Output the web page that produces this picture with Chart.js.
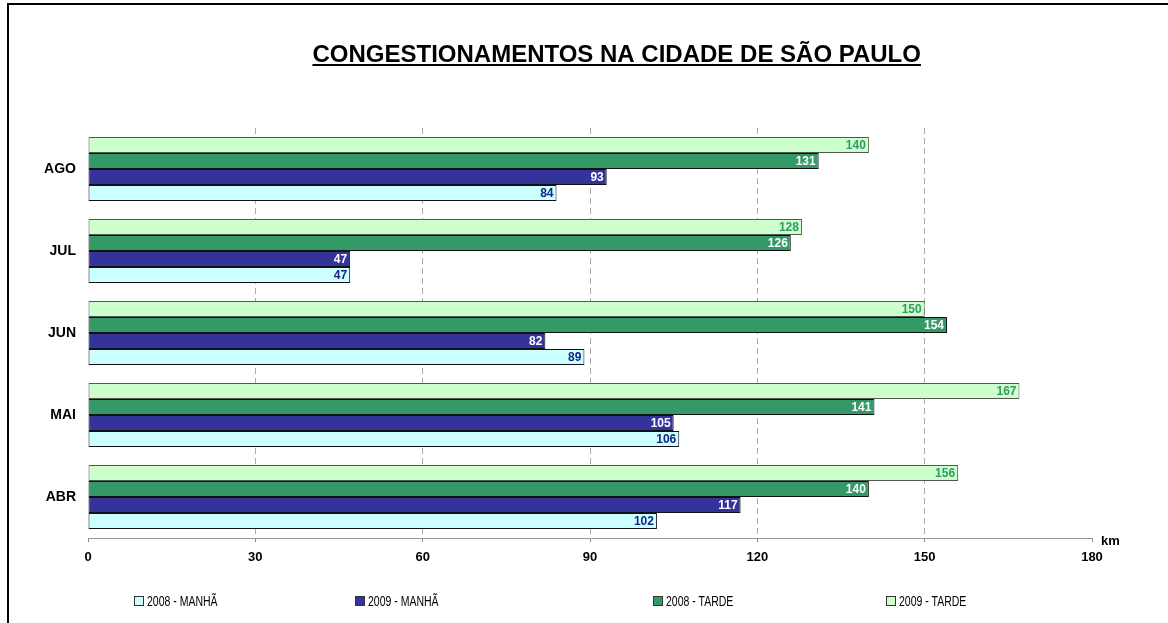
<!DOCTYPE html>
<html>
<head>
<meta charset="utf-8">
<script src="https://cdn.jsdelivr.net/npm/chart.js@4"></script>
<style>
    html, body { margin: 0; padding: 0; background: #fff; }
    #wrap { position: relative; width: 1168px; height: 623px; overflow: hidden; }
    #frame {
        position: absolute; left: 7px; top: 3px; width: 1200px; height: 700px;
        border-left: 2px solid #000; border-top: 2px solid #000;
    }
    #chart { position: absolute; left: 0; top: 0; }
    #legend {
        position: absolute; left: 134px; top: 592px; height: 18px; display: flex;
        font-family: "Liberation Sans", Arial, sans-serif;
        font-size: 14px; color: #000;
    }
    .item { display: flex; align-items: center; }
    .box { width: 8px; height: 8px; border: 1px solid #333; margin-right: 3px; }
    .txt { display: inline-block; transform: scaleX(0.75); transform-origin: left center; white-space: nowrap; }
</style>
</head>
<body>
<div id="wrap">
    <div id="frame"></div>
    <canvas id="chart" width="1168" height="623"></canvas>
    <div id="legend"></div>
</div>
<script>
const FONT = '"Liberation Sans", Arial, sans-serif';
const TITLE = 'CONGESTIONAMENTOS NA CIDADE DE SÃO PAULO';

// meses de cima para baixo
const meses = ['AGO', 'JUL', 'JUN', 'MAI', 'ABR'];

const manha2008 = [84, 47, 89, 106, 102];
const manha2009 = [93, 47, 82, 105, 117];
const tarde2008 = [131, 126, 154, 141, 140];
const tarde2009 = [140, 128, 150, 167, 156];

const xTicks = [0, 30, 60, 90, 120, 150, 180];

// ordem dos datasets = ordem das barras de cima para baixo
const series = [
    { label: '2009 - TARDE', data: tarde2009, bg: '#ccffcc', border: '#555', text: '#339966' },
    { label: '2008 - TARDE', data: tarde2008, bg: '#339966', border: '#111', text: '#ffffff' },
    { label: '2009 - MANHÃ', data: manha2009, bg: '#333399', border: '#111', text: '#ffffff' },
    { label: '2008 - MANHÃ', data: manha2008, bg: '#ccffff', border: '#111', text: '#1a237e' }
];

// larguras das colunas da legenda (2008 manhã primeiro)
const legendWidths = [221, 298, 233, 150];

//valores dentro do fim de cada barra
const valueLabels = {
    id: 'valueLabels',
    afterDatasetsDraw(chart) {
        const ctx = chart.ctx;
        ctx.save();
        ctx.font = 'bold 12px ' + FONT;
        ctx.textAlign = 'right';
        ctx.textBaseline = 'middle';
        chart.data.datasets.forEach((ds, i) => {
            const meta = chart.getDatasetMeta(i);
            ctx.fillStyle = series[i].text;
            meta.data.forEach((bar, j) => {
                ctx.fillText(ds.data[j], bar.x - 3, bar.y + 1);
            });
        });
        ctx.restore();
    }
};

//titulo sublinhado e unidade "km"
const extras = {
    id: 'extras',
    afterDraw(chart) {
        const ctx = chart.ctx;
        const a = chart.chartArea;
        ctx.save();
        ctx.fillStyle = '#000';
        ctx.font = 'bold 24px ' + FONT;
        ctx.textAlign = 'center';
        ctx.textBaseline = 'alphabetic';
        const cx = chart.width * 0.528;
        const base = a.top - 66;
        ctx.fillText(TITLE, cx, base);
        const w = ctx.measureText(TITLE).width;
        ctx.fillRect(cx - w / 2, base + 2, w, 2);

        ctx.font = 'bold 13px ' + FONT;
        ctx.textAlign = 'left';
        ctx.textBaseline = 'middle';
        ctx.fillText('km', a.right + 9, a.bottom + 3);
        ctx.restore();
    }
};

new Chart(document.getElementById('chart'), {
    type: 'bar',
    data: {
        labels: meses,
        datasets: series.map(s => ({
            label: s.label,
            data: s.data,
            backgroundColor: s.bg,
            borderColor: s.border,
            borderWidth: 1,
            borderSkipped: false,
            categoryPercentage: 0.78,
            barPercentage: 1.0
        }))
    },
    options: {
        indexAxis: 'y',
        responsive: false,
        animation: false,
        layout: { padding: { left: 0, right: 76, top: 128, bottom: 45 } },
        scales: {
            x: {
                min: 0,
                max: 180,
                afterBuildTicks: s => { s.ticks = xTicks.map(v => ({ value: v })); },
                afterFit: s => { s.height = 40; },
                grid: {
                    color: c => (c.tick && (c.tick.value === 0 || c.tick.value === 180)) ? 'rgba(0,0,0,0)' : '#aaaaaa',
                    tickColor: '#888888',
                    tickLength: 4,
                    tickBorderDash: [],
                    lineWidth: 1
                },
                border: { display: true, color: '#999999', width: 1, dash: [6, 4] },
                ticks: { color: '#000', padding: 8, font: { family: FONT, size: 13, weight: 'bold' } }
            },
            y: {
                afterFit: s => { s.width = 88; },
                grid: { display: false, drawTicks: false },
                border: { display: false },
                ticks: { color: '#000', padding: 12, font: { family: FONT, size: 14, weight: 'bold' } }
            }
        },
        plugins: {
            legend: { display: false },
            tooltip: { enabled: false },
            title: { display: false }
        }
    },
    plugins: [valueLabels, extras]
});

// legenda na ordem original (2008 manhã primeiro)
const legend = document.getElementById('legend');
series.slice().reverse().forEach((s, i) => {
    const el = document.createElement('div');
    el.className = 'item';
    el.style.width = legendWidths[i] + 'px';
    el.innerHTML = '<span class="box" style="background:' + s.bg + '"></span><span class="txt">' + s.label + '</span>';
    legend.appendChild(el);
});
</script>
</body>
</html>
